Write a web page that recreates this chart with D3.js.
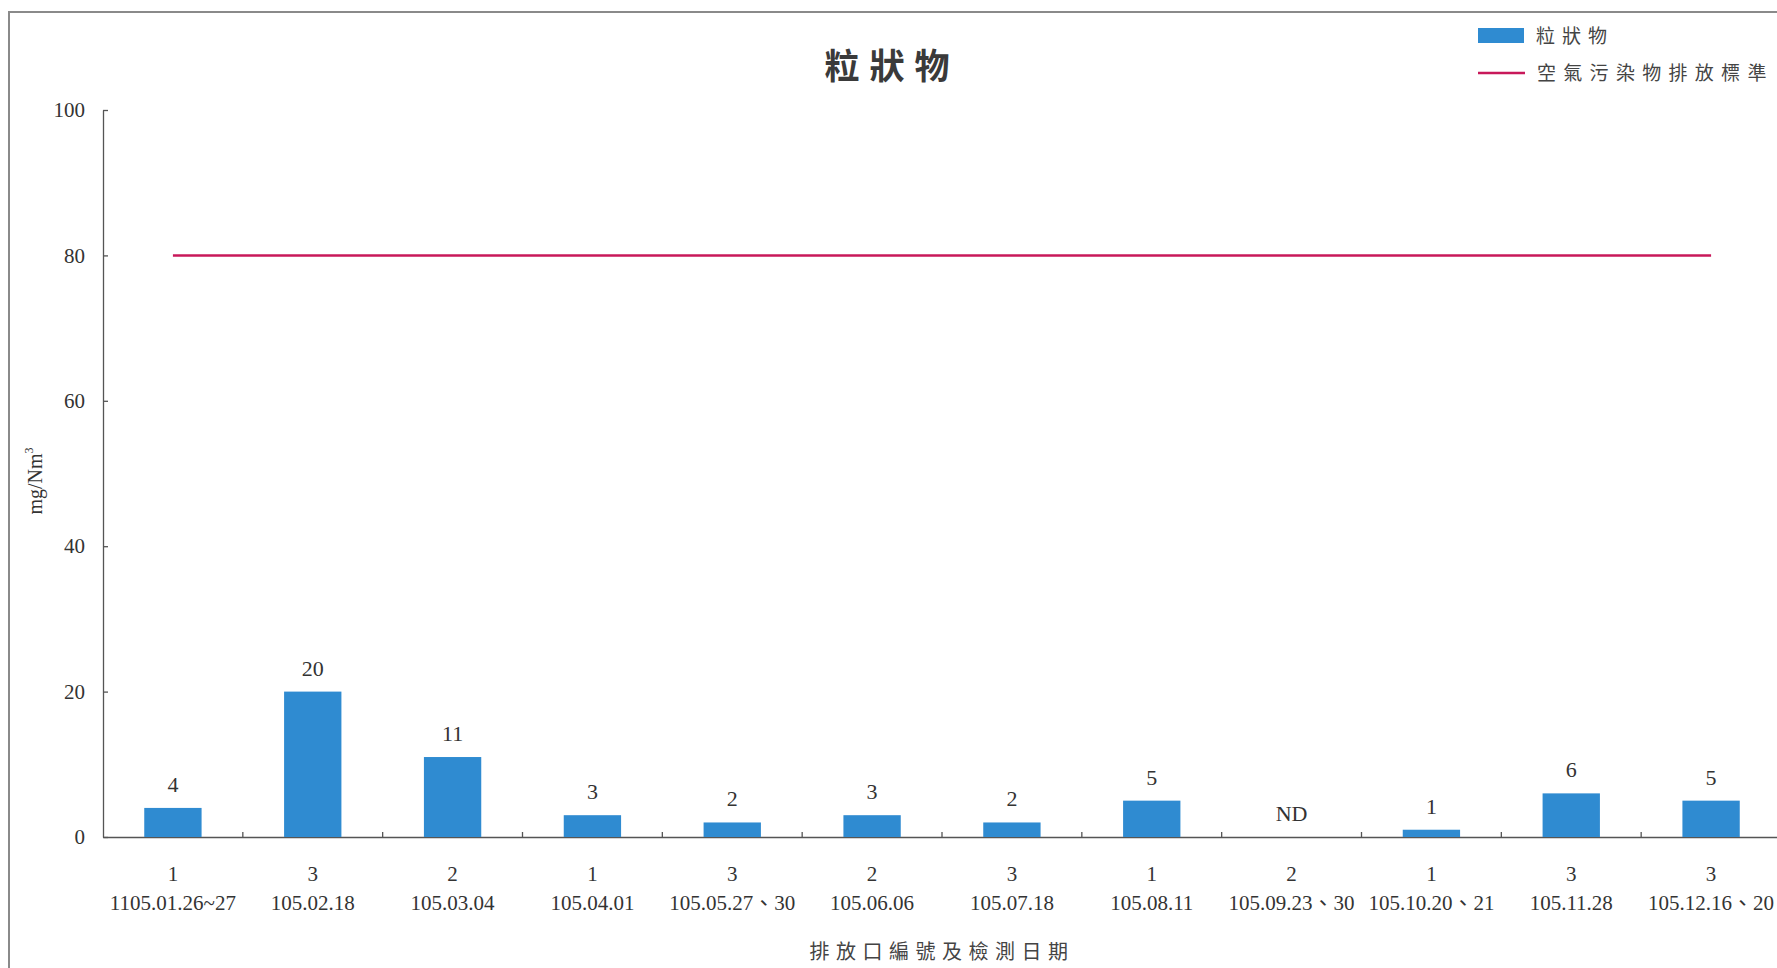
<!DOCTYPE html>
<html><head><meta charset="utf-8">
<script src="https://cdn.jsdelivr.net/npm/d3@7/dist/d3.min.js"></script>
<style>
body{margin:0;background:#fff}
svg{display:block}
.num{font-family:"Liberation Serif","Times New Roman","Noto Sans CJK TC",serif;fill:#333}
.cjk{font-family:"Noto Sans CJK TC","Noto Sans CJK SC",sans-serif;fill:#444}
</style>
</head><body>
<svg id="c" width="1777" height="968"></svg>
<script>
// ---- data ----
const outlets = ["1","3","2","1","3","2","3","1","2","1","3","3"];
const dates = ["1105.01.26~27","105.02.18","105.03.04","105.04.01","105.05.27、30","105.06.06","105.07.18","105.08.11","105.09.23、30","105.10.20、21","105.11.28","105.12.16、20"];
const values = [4,20,11,3,2,3,2,5,0,1,6,5];
const valueLabels = ["4","20","11","3","2","3","2","5","ND","1","6","5"];
const standard = [80,80,80,80,80,80,80,80,80,80,80,80];
const yTicks = [0,20,40,60,80,100];
const chartTitle = "粒狀物";
const seriesName = "粒狀物";
const standardName = "空氣污染物排放標準";
const xTitle = "排放口編號及檢測日期";
const yTitle = "mg/Nm";
const yTitleSup = "3";

// ---- styles ----
const barColor = "#2f8bd1";
const lineColor = "#c8185a";
const axisColor = "#555";

const svg = d3.select("#c");
const idx = d3.range(values.length);

const x = d3.scaleBand().domain(idx).range([103, 1781]).paddingInner(0.59).paddingOuter(0.295);
const y = d3.scaleLinear().domain([0, 100]).range([837, 110]);
const bw = x.bandwidth();
const step = x.step();

// frame
svg.append("path").attr("d","M9,968 L9,12 L1777,12").attr("fill","none").attr("stroke","#8a8a8a").attr("stroke-width",2);

// title
svg.append("text").attr("class","cjk").attr("x",892).attr("y",67).attr("dy","0.35em")
  .attr("text-anchor","middle").attr("font-size",35).attr("font-weight",700)
  .attr("letter-spacing",10).style("fill","#3a3a3a").text(chartTitle);

// y axis
const yAxis = svg.append("g").attr("transform","translate(103,0)")
  .call(d3.axisLeft(y).tickValues(yTicks).tickSizeInner(-5).tickSizeOuter(0).tickPadding(18));
yAxis.selectAll("path,line").attr("stroke",axisColor).attr("stroke-width",1.3);
yAxis.selectAll("text").attr("class","num").attr("font-size",21).style("fill","#333");

// y title
const yt = svg.append("text").attr("class","num").attr("font-size",20)
  .attr("transform","translate(42,481) rotate(-90)").attr("text-anchor","middle");
yt.append("tspan").text(yTitle);
yt.append("tspan").attr("font-size",12).attr("dy",-9).text(yTitleSup);

// x axis
const xAxis = svg.append("g").attr("transform","translate(0,837)")
  .call(d3.axisBottom(x).tickSize(0).tickPadding(29).tickFormat(i => outlets[i]));
xAxis.select("path").attr("stroke",axisColor).attr("stroke-width",1.3);
xAxis.selectAll("text").attr("class","num").attr("font-size",21).style("fill","#333")
  .each(function(i){
    const t = d3.select(this);
    const first = t.text();
    t.text(null);
    t.append("tspan").attr("x",0).text(first);
    t.append("tspan").attr("x",0).attr("dy",29).text(dates[i]);
  });
// boundary ticks between categories
svg.append("g").selectAll("line").data(idx.slice(1)).join("line")
  .attr("x1", i => x(i) - (step - bw)/2).attr("x2", i => x(i) - (step - bw)/2)
  .attr("y1", y(0)).attr("y2", y(0) - 5)
  .attr("stroke",axisColor).attr("stroke-width",1.3);

// x title
svg.append("text").attr("class","cjk").attr("x",(x.range()[0]+x.range()[1])/2).attr("y",952).attr("dy","0.35em")
  .attr("text-anchor","middle").attr("font-size",20).attr("letter-spacing",6.5).text(xTitle);

// bars
svg.append("g").selectAll("rect").data(idx).join("rect")
  .attr("x", i => x(i)).attr("width", bw)
  .attr("y", i => y(values[i])).attr("height", i => y(0) - y(values[i]))
  .attr("fill", barColor);

// value labels
svg.append("g").selectAll("text").data(idx).join("text").attr("class","num")
  .attr("x", i => x(i) + bw/2).attr("y", i => y(values[i]) - 16)
  .attr("text-anchor","middle").attr("font-size",22).text(i => valueLabels[i]);

// standard line
svg.append("path").datum(standard)
  .attr("d", d3.line().x((d,i) => x(i) + bw/2).y(d => y(d)))
  .attr("fill","none").attr("stroke",lineColor).attr("stroke-width",2.5);

// legend
svg.append("rect").attr("x",1478).attr("y",28).attr("width",46).attr("height",15).attr("fill",barColor);
svg.append("text").attr("class","cjk").attr("x",1536).attr("y",36).attr("dy","0.35em")
  .attr("font-size",19).attr("letter-spacing",7).text(seriesName);
svg.append("line").attr("x1",1478).attr("x2",1525).attr("y1",73).attr("y2",73)
  .attr("stroke",lineColor).attr("stroke-width",2.5);
svg.append("text").attr("class","cjk").attr("x",1537).attr("y",73).attr("dy","0.35em")
  .attr("font-size",19).attr("letter-spacing",7.3).text(standardName);
</script>
</body></html>
